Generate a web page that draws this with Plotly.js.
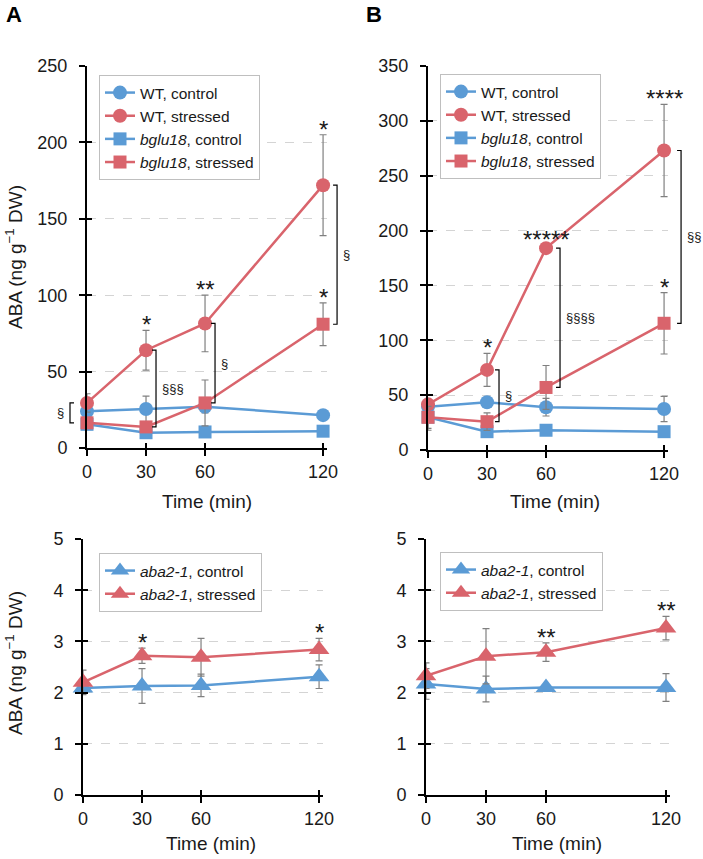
<!DOCTYPE html>
<html>
<head>
<meta charset="utf-8">
<script src="https://cdn.plot.ly/plotly-3.0.1.min.js"></script>
<style>
  html, body { margin: 0; padding: 0; background: #fff; }
  #chart { width: 703px; height: 859px; }
</style>
</head>
<body>
<div id="chart"></div>
<script>
// time points (min)
const TIME = [0, 30, 60, 120];
const TIME_TICKS = ['0', '30', '60', '120'];

// panel A (top left) – ABA, ng g-1 DW
const aWtCtrl = [24, 25.5, 27, 21.5];
const aWtCtrlErr = [4, 8.5, 4, 2];
const aWtStr = [29.5, 64, 81.5, 172];
const aWtStrErr = [6, 13, 18.5, 33];
const aBgCtrl = [15.5, 10, 10.5, 11];
const aBgCtrlErr = [2, 2, 2, 2];
const aBgStr = [16.5, 13.8, 29.5, 81];
const aBgStrErr = [3, 3, 15, 14];

// panel B (top right)
const bWtCtrl = [39.5, 43.5, 39, 37.4];
const bWtCtrlErr = [3, 4, 8, 11.5];
const bWtStr = [41.6, 73, 184, 273];
const bWtStrErr = [4, 15, 3, 42];
const bBgCtrl = [30, 16.7, 18, 16.7];
const bBgCtrlErr = [12, 2, 2, 2];
const bBgStr = [29.8, 25.8, 57, 115.5];
const bBgStrErr = [10, 8, 20, 28];

// aba2-1, under A and B
const cCtrl = [2.09, 2.13, 2.14, 2.31];
const cCtrlErr = [0.1, 0.34, 0.22, 0.23];
const cStr = [2.2, 2.72, 2.69, 2.84];
const cStrErr = [0.24, 0.15, 0.37, 0.22];
const dCtrl = [2.17, 2.07, 2.10, 2.10];
const dCtrlErr = [0.3, 0.25, 0.05, 0.27];
const dStr = [2.33, 2.71, 2.79, 3.26];
const dStrErr = [0.25, 0.54, 0.18, 0.23];

// significance marks: [time index, label]
const aWtStars = [[1, '*'], [2, '**'], [3, '*']];
const aBgStars = [[3, '*']];
const bWtStars = [[1, '*'], [2, '*****'], [3, '****']];
const bBgStars = [[3, '*']];
const cStrStars = [[1, '*'], [3, '*']];
const dStrStars = [[2, '**'], [3, '**']];

// WT vs bglu18 (stressed) comparisons: [time index, label]
const aSect = [[0, '§'], [1, '§§§'], [2, '§'], [3, '§']];
const bSect = [[1, '§'], [2, '§§§§'], [3, '§§']];

const BLUE = '#5b9bd5';
const RED = '#d9646c';
const ERR = '#808080';
const INK = '#1a1a1a';
const FONT = 'Arial, "Liberation Sans", sans-serif';
const XMAX = 122;
const W = 703, H = 859;

function series(xa, ya, y, err, color, symbol, size, name, legend, rank) {
  return {
    type: 'scatter', mode: 'lines+markers',
    x: TIME, y: y, xaxis: xa, yaxis: ya,
    name: name, legend: legend, legendrank: rank,
    line: { color: color, width: 2.5 },
    marker: { color: color, symbol: symbol, size: size },
    error_y: { type: 'data', array: err, visible: true, color: ERR, thickness: 1.2, width: 3.5 },
    cliponaxis: false
  };
}

const traces = [
  series('x', 'y', aWtCtrl, aWtCtrlErr, BLUE, 'circle', 14, 'WT, control', 'legend', 1),
  series('x', 'y', aBgCtrl, aBgCtrlErr, BLUE, 'square', 13, '<i>bglu18</i>, control', 'legend', 3),
  series('x', 'y', aWtStr, aWtStrErr, RED, 'circle', 14, 'WT, stressed', 'legend', 2),
  series('x', 'y', aBgStr, aBgStrErr, RED, 'square', 13, '<i>bglu18</i>, stressed', 'legend', 4),

  series('x2', 'y2', bWtCtrl, bWtCtrlErr, BLUE, 'circle', 14, 'WT, control', 'legend2', 1),
  series('x2', 'y2', bBgCtrl, bBgCtrlErr, BLUE, 'square', 13, '<i>bglu18</i>, control', 'legend2', 3),
  series('x2', 'y2', bWtStr, bWtStrErr, RED, 'circle', 14, 'WT, stressed', 'legend2', 2),
  series('x2', 'y2', bBgStr, bBgStrErr, RED, 'square', 13, '<i>bglu18</i>, stressed', 'legend2', 4),

  series('x3', 'y3', cCtrl, cCtrlErr, BLUE, 'triangle-up', 18, '<i>aba2-1</i>, control', 'legend3', 1),
  series('x3', 'y3', cStr, cStrErr, RED, 'triangle-up', 18, '<i>aba2-1</i>, stressed', 'legend3', 2),

  series('x4', 'y4', dCtrl, dCtrlErr, BLUE, 'triangle-up', 18, '<i>aba2-1</i>, control', 'legend4', 1),
  series('x4', 'y4', dStr, dStrErr, RED, 'triangle-up', 18, '<i>aba2-1</i>, stressed', 'legend4', 2)
];

function xAxis(x0, x1, anchor) {
  return {
    domain: [x0 / W, x1 / W], anchor: anchor, range: [0, XMAX],
    tickmode: 'array', tickvals: TIME, ticktext: TIME_TICKS,
    ticks: 'outside', ticklen: 6, tickwidth: 1.5, tickcolor: '#000',
    showline: true, linecolor: '#000', linewidth: 2,
    showgrid: false, zeroline: false,
    tickfont: { family: FONT, size: 18, color: INK }
  };
}

function yAxis(top, bottom, anchor, max, step) {
  return {
    domain: [1 - bottom / H, 1 - top / H], anchor: anchor, range: [0, max], dtick: step,
    ticks: 'outside', ticklen: 6, tickwidth: 1.5, tickcolor: '#000',
    showline: true, linecolor: '#000', linewidth: 2,
    showgrid: true, gridcolor: '#d4d4d4', griddash: 'dash', gridwidth: 1,
    zeroline: false, ticklabelstandoff: 8,
    tickfont: { family: FONT, size: 18, color: INK }
  };
}

// second set of axes on top of each panel, only for the inner half of the crossing ticks
function innerX(base, anchor) {
  return {
    overlaying: base, anchor: anchor, range: [0, XMAX],
    tickmode: 'array', tickvals: TIME, ticks: 'inside', ticklen: 5, tickwidth: 1.5, tickcolor: '#000',
    showticklabels: false, showline: false, showgrid: false, zeroline: false
  };
}
function innerY(base, anchor, max, step) {
  return {
    overlaying: base, anchor: anchor, range: [0, max], dtick: step,
    ticks: 'inside', ticklen: 5, tickwidth: 1.5, tickcolor: '#000',
    showticklabels: false, showline: false, showgrid: false, zeroline: false
  };
}
[['x5', 'y5'], ['x6', 'y6'], ['x7', 'y7'], ['x8', 'y8']].forEach(([xa, ya]) => {
  traces.push({ type: 'scatter', x: [], y: [], xaxis: xa, yaxis: ya, showlegend: false, hoverinfo: 'skip' });
});

function legendBox(left, top) {
  return {
    x: left / W, y: 1 - top / H, xanchor: 'left', yanchor: 'top',
    bgcolor: '#fff', bordercolor: '#bfbfbf', borderwidth: 1,
    font: { family: FONT, size: 15.5, color: INK },
    traceorder: 'normal', itemwidth: 30
  };
}

const annotations = [];
const shapes = [];

function stars(xa, ya, list, y, err) {
  list.forEach(([i, txt]) => {
    annotations.push({
      xref: xa, yref: ya, x: TIME[i], y: y[i] + err[i],
      text: txt, showarrow: false, xanchor: 'center', yanchor: 'bottom', yshift: -10,
      font: { family: FONT, size: 24, color: INK }
    });
  });
}

// bracket between the two stressed lines, dx in px from the time point
function bracket(xa, ya, list, top, bottom, dxs) {
  list.forEach(([i, txt], k) => {
    const dx = dxs[k];
    const dir = dx < 0 ? -1 : 1;
    const tip = dx - dir * 4;
    shapes.push({
      type: 'path', xref: xa + ' domain', yref: ya,
      xsizemode: 'pixel', xanchor: TIME[i] / XMAX,
      path: `M ${tip},${top[i]} L ${dx},${top[i]} L ${dx},${bottom[i]} L ${tip},${bottom[i]}`,
      line: { color: '#000', width: 1.2 }
    });
    annotations.push({
      xref: xa + ' domain', yref: ya, x: TIME[i] / XMAX, y: (top[i] + bottom[i]) / 2,
      xshift: dx + dir * 4, xanchor: dir > 0 ? 'left' : 'right', yanchor: 'middle',
      text: txt, showarrow: false,
      font: { family: FONT, size: 13, color: INK }
    });
  });
}

stars('x', 'y', aWtStars, aWtStr, aWtStrErr);
stars('x', 'y', aBgStars, aBgStr, aBgStrErr);
stars('x2', 'y2', bWtStars, bWtStr, bWtStrErr);
stars('x2', 'y2', bBgStars, bBgStr, bBgStrErr);
stars('x3', 'y3', cStrStars, cStr, cStrErr);
stars('x4', 'y4', dStrStars, dStr, dStrErr);

bracket('x', 'y', aSect, aWtStr, aBgStr, [-17, 10, 10, 14]);
bracket('x2', 'y2', bSect, bWtStr, bBgStr, [12, 14, 17]);

// axis titles and panel letters
const yTitle = 'ABA (ng g<sup>−1</sup> DW)';
[[14, 257], [14, 663]].forEach(([px, py]) => {
  annotations.push({
    xref: 'paper', yref: 'paper', x: px / W, y: 1 - py / H, textangle: -90,
    text: yTitle, showarrow: false, xanchor: 'center', yanchor: 'middle',
    font: { family: FONT, size: 19, color: INK }
  });
});
[[207, 502], [555, 502], [211, 843], [557, 843]].forEach(([px, py]) => {
  annotations.push({
    xref: 'paper', yref: 'paper', x: px / W, y: 1 - py / H,
    text: 'Time (min)', showarrow: false, xanchor: 'center', yanchor: 'middle',
    font: { family: FONT, size: 19, color: INK }
  });
});
[['A', 14], ['B', 374]].forEach(([t, px]) => {
  annotations.push({
    xref: 'paper', yref: 'paper', x: px / W, y: 1 - 14 / H,
    text: '<b>' + t + '</b>', showarrow: false, xanchor: 'center', yanchor: 'middle',
    font: { family: FONT, size: 22, color: '#000' }
  });
});

const layout = {
  width: W, height: H,
  margin: { l: 0, r: 0, t: 0, b: 0 },
  paper_bgcolor: '#fff', plot_bgcolor: 'rgba(0,0,0,0)',
  font: { family: FONT, color: INK },
  xaxis: xAxis(87, 327, 'y'),
  yaxis: yAxis(66, 448, 'x', 250, 50),
  xaxis2: xAxis(428, 668, 'y2'),
  yaxis2: yAxis(66, 450, 'x2', 350, 50),
  xaxis3: xAxis(83, 323, 'y3'),
  yaxis3: yAxis(539, 795, 'x3', 5, 1),
  xaxis4: xAxis(426, 670, 'y4'),
  yaxis4: yAxis(539, 795, 'x4', 5, 1),
  xaxis5: innerX('x', 'y5'), yaxis5: innerY('y', 'x5', 250, 50),
  xaxis6: innerX('x2', 'y6'), yaxis6: innerY('y2', 'x6', 350, 50),
  xaxis7: innerX('x3', 'y7'), yaxis7: innerY('y3', 'x7', 5, 1),
  xaxis8: innerX('x4', 'y8'), yaxis8: innerY('y4', 'x8', 5, 1),
  legend: legendBox(99, 75),
  legend2: legendBox(440, 74),
  legend3: legendBox(99, 553),
  legend4: legendBox(440, 552),
  showlegend: true,
  annotations: annotations,
  shapes: shapes
};

Plotly.newPlot('chart', traces, layout, { displayModeBar: false, responsive: false });
</script>
</body>
</html>
